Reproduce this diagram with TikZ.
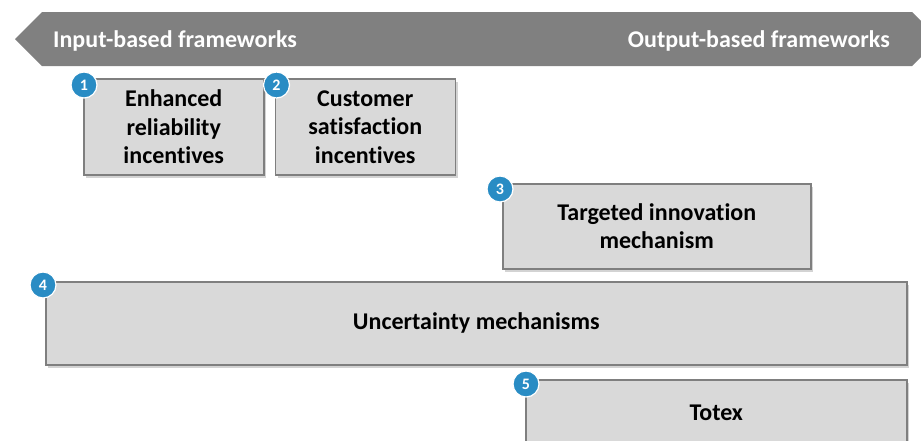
\documentclass[tikz,border=0pt]{standalone}
\usepackage{fontspec}
\setmainfont{Carlito}[Ligatures=NoCommon]
\usetikzlibrary{shadows, positioning}
\definecolor{bannerColor}{RGB}{128,128,128}
\definecolor{boxColor}{RGB}{217,217,217}
\definecolor{edgeColor}{RGB}{127,127,127}
\definecolor{badgeColor}{RGB}{41,140,196}
\tikzset{mechanism/.style={draw=edgeColor, line width=1.5pt, fill=boxColor, align=center, inner sep=0pt, font=\bfseries\fontsize{24}{28.5}\selectfont, drop shadow={opacity=.35, shadow xshift=2.5pt, shadow yshift=-3pt}}}
\tikzset{badge/.style={circle, fill=badgeColor, draw=white, line width=1.2pt, minimum size=26pt, inner sep=0pt, text=white, font=\bfseries\fontsize{16}{16}\selectfont}}
\tikzset{banner/.style={text=white, inner sep=0pt, font=\bfseries\fontsize{24}{28}\selectfont}}

\begin{document}
\begin{tikzpicture}[x=1pt, y=-1pt, node distance=10pt]
	\useasboundingbox (0,0) rectangle (921,440);

	% Banner
	\fill[bannerColor] (15,39) -- (42,12) -- (912,12) -- (939,39) -- (912,66) -- (42,66) -- cycle;
	\node (input) [banner, anchor=base west] at (53,47) {Input-based frameworks};
	\node (output) [banner, anchor=base east] at (890,47) {Output-based frameworks};

	% Nodes
	\node (reliability) [mechanism, minimum width=180pt, minimum height=96pt, anchor=north west] at (83,78) {Enhanced\\ reliability\\ incentives};
	\node (satisfaction) [mechanism, minimum width=180pt, minimum height=96pt, right=of reliability] {Customer\\ satisfaction\\ incentives};
	\node (innovation) [mechanism, minimum width=308pt, minimum height=85pt, anchor=north west] at (502,183) {Targeted innovation\\ mechanism};
	\node (uncertainty) [mechanism, minimum width=861pt, minimum height=83pt, anchor=north west] at (45,281) {Uncertainty mechanisms};
	\node (totex) [mechanism, minimum width=381pt, minimum height=66pt, anchor=north west] at (525,379) {Totex};

	% Badges
	\node (badge1) [badge, xshift=1pt, yshift=-7pt] at (reliability.north west) {1};
	\node (badge2) [badge, xshift=2pt, yshift=-7pt] at (satisfaction.north west) {2};
	\node (badge3) [badge, xshift=-2pt, yshift=-6pt] at (innovation.north west) {3};
	\node (badge4) [badge, xshift=-2pt, yshift=-4pt] at (uncertainty.north west) {4};
	\node (badge5) [badge, xshift=1pt, yshift=-5pt] at (totex.north west) {5};
\end{tikzpicture}
\end{document}
